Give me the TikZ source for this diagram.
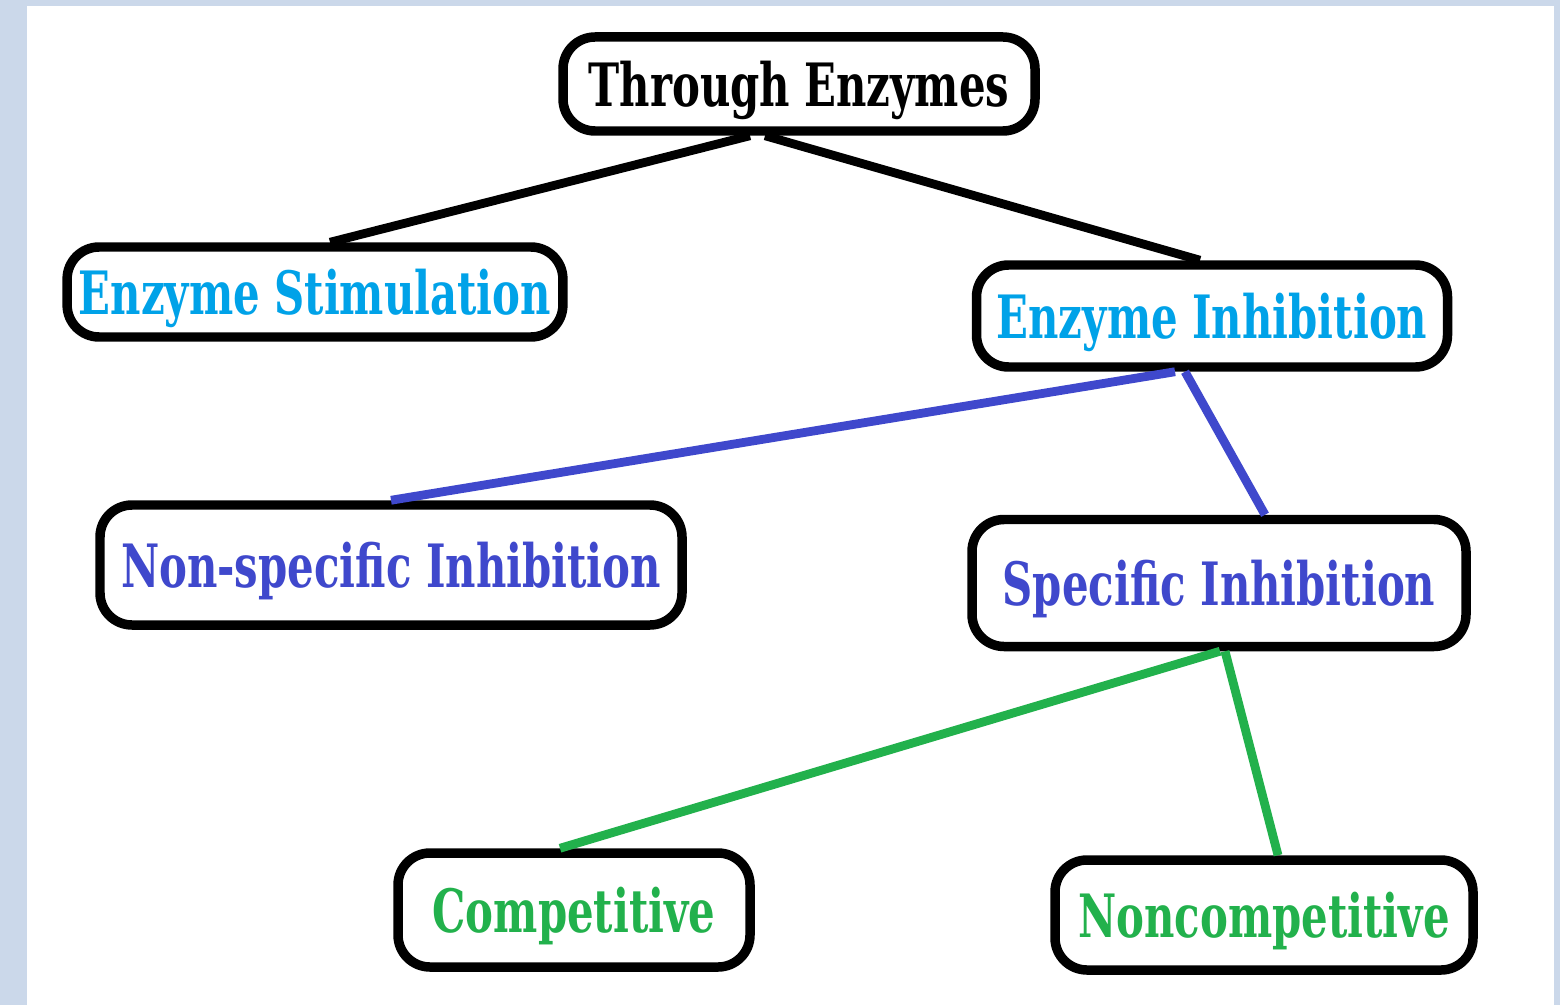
\documentclass[tikz,border=0pt]{standalone}
\usepackage{fontspec}
\setmainfont{DejaVu Serif}[FakeStretch=0.70]
\usepackage{xcolor}
\usetikzlibrary{calc, positioning}

\definecolor{pagebg}{HTML}{CBD8EA}
\definecolor{turq}{HTML}{00A2E8}
\definecolor{indigo}{HTML}{3F48CC}
\definecolor{paintgreen}{HTML}{22B14C}

\tikzset{
    box/.style={draw, line width=2.7pt, rounded corners=3.2mm, fill=white, text depth=0pt, font=\fontsize{17}{20}\selectfont\bfseries},
    link/.style={line width=2.5pt}
}

\begin{document}
\begin{tikzpicture}
                            \useasboundingbox (0, 0) rectangle (15.6, -10.05);
                            \fill[pagebg] (0, 0) rectangle (15.6, -10.05);
                            \fill[white] (0.27, -0.06) rectangle (15.54, -10.05);

                            \node[box, minimum width=4.72cm, minimum height=0.94cm] (top) at (7.99, -0.84) {Through Enzymes};
                            \node[box, minimum width=4.94cm, minimum height=0.90cm, text=turq] (stim) at (3.15, -2.92) {Enzyme Stimulation};
                            \node[box, minimum width=4.71cm, minimum height=1.02cm, text=turq] (inhib) at (12.12, -3.16) {Enzyme Inhibition};
                            \node[box, minimum width=5.82cm, minimum height=1.20cm, text=indigo] (nonspec) at (3.91, -5.65) {Non-specific Inhibition};
                            \node[box, minimum width=4.94cm, minimum height=1.27cm, text=indigo] (spec) at (12.19, -5.83) {Specific Inhibition};
                            \node[box, minimum width=3.52cm, minimum height=1.14cm, text=paintgreen] (comp) at (5.74, -9.10) {Competitive};
                            \node[box, minimum width=4.18cm, minimum height=1.10cm, text=paintgreen] (noncomp) at (12.64, -9.15) {Noncompetitive};

                            \draw[link]
                            ([xshift=-4.9mm]top.south) -- ([xshift=1.5mm]stim.north)
                            ([xshift=-3.4mm]top.south) -- ([xshift=-1.2mm]inhib.north);
                            \draw[link, indigo]
                            ([xshift=-3.7mm]inhib.south) -- (nonspec.north)
                            ([xshift=-2.7mm]inhib.south) -- ([xshift=4.6mm]spec.north);
                            \draw[link, paintgreen]
                            ([xshift=0.1mm]spec.south) -- ([xshift=-1.4mm]comp.north)
                            ([xshift=0.6mm]spec.south) -- ([xshift=1.4mm]noncomp.north);
                        \end{tikzpicture}
\end{document}
